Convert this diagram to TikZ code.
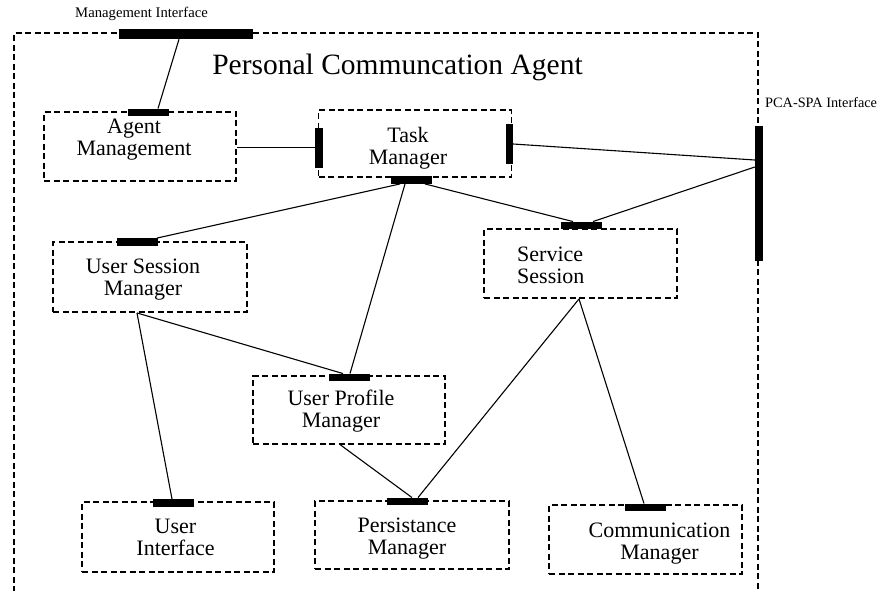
\documentclass[tikz,border=0pt]{standalone}
\usepackage{fontspec}
\setmainfont{Liberation Serif}
\usetikzlibrary{calc}

% two-line label whose reference point is the baseline of its first line
\newcommand{\twoc}[2]{\begin{tabular}[t]{@{}c@{}}#1\\#2\end{tabular}}
\newcommand{\twol}[2]{\begin{tabular}[t]{@{}l@{}}#1\\#2\end{tabular}}

\tikzset{
  dashbox/.style={draw, line width=1.9pt, dash pattern=on 6pt off 3.5pt,
    minimum width=193pt, minimum height=69pt, inner sep=0pt},
  hbar/.style={fill=black, draw=none, minimum width=41pt, minimum height=7.5pt, inner sep=0pt},
  vbar/.style={fill=black, draw=none, minimum width=8pt, minimum height=40pt, inner sep=0pt},
  wire/.style={draw, line width=1.1pt},
  boxtext/.style={anchor=base, inner sep=0pt, font=\fontsize{22}{22}\selectfont},
  smalltext/.style={anchor=base west, inner sep=0pt},
}

\begin{document}
\begin{tikzpicture}[x=1pt, y=-1pt]
\useasboundingbox (0,0) rectangle (881,590);
\fill[white] (0,0) rectangle (881,590);

% outer agent boundary (open at the bottom)
\draw[line width=1.9pt, dash pattern=on 6pt off 3.5pt] (14,592) -- (14,33) -- (758,33) -- (758,592);

% component boxes
\node[dashbox, minimum width=192pt] (am)  at (140,146.5) {};
\node[dashbox, minimum height=67pt] (tm)  at (415,143.5) {};
\node[dashbox, minimum width=194pt, minimum height=70pt] (usm) at (150,277) {};
\node[dashbox] (ss)  at (580.5,263.5) {};
\node[dashbox, minimum width=192pt, minimum height=68pt] (upm) at (349,410) {};
\node[dashbox, minimum width=192pt, minimum height=70pt] (ui)  at (178,537) {};
\node[dashbox, minimum width=194pt, minimum height=68pt] (pm)  at (412,535) {};
\node[dashbox] (cm)  at (645.5,539.5) {};

% interface bars
\node[fill=black, minimum width=134pt, minimum height=10pt, inner sep=0pt] (mgmtbar) at (186,34) {};
\node[fill=black, minimum width=8pt, minimum height=135pt, inner sep=0pt] (pcabar) at (759,193.5) {};
\node[hbar] (am-b)  at (148,112.5) {};
\node[vbar] (tm-l)  at (319,147.5) {};
\node[vbar, minimum width=7pt] (tm-r) at (509.5,144) {};
\node[hbar] (tm-b)  at (411.5,180) {};
\node[hbar] (usm-b) at (137.5,242) {};
\node[hbar] (ss-b)  at (581.5,225.5) {};
\node[hbar] (upm-b) at (349,377.5) {};
\node[hbar] (ui-b)  at (173.5,503) {};
\node[hbar] (pm-b)  at (407.5,501.5) {};
\node[hbar] (cm-b)  at (645.5,507.5) {};

% connectors
\draw[wire] ([xshift=-7pt]mgmtbar.south) -- ([xshift=10pt]am-b.north);
\draw[wire] (tm-l.west) -- (tm-l.west -| am.east);
\draw[wire] (tm-r.east) -- ([yshift=33.5pt]pcabar.west);
\draw[wire] ([xshift=11.5pt]ss-b.north) -- ([yshift=26.5pt]pcabar.west);
\draw[wire] ([xshift=13.5pt]tm-b.south) -- ([xshift=-8.5pt]ss-b.north);
\draw[wire] ([xshift=-11.5pt]tm-b.south) -- ([xshift=19.5pt]usm-b.north);
\draw[wire] ([xshift=-6.5pt]tm-b.south) -- ([xshift=1pt]upm-b.north);
\draw[wire] ([xshift=-13pt]usm.south) -- ([xshift=-6pt]upm-b.north);
\draw[wire] ([xshift=-13pt]usm.south) -- ([xshift=-1.5pt]ui-b.north);
\draw[wire] ([xshift=-8.5pt]upm.south) -- ([xshift=4.5pt]pm-b.north);
\draw[wire] ([xshift=-1.5pt]ss.south) -- ([xshift=10.5pt]pm-b.north);
\draw[wire] ([xshift=-1.5pt]ss.south) -- ([xshift=-1.5pt]cm-b.north);

% labels
\node[anchor=base, inner sep=0pt, font=\fontsize{29.5}{30}\selectfont] (title) at (397.5,74) {Personal Communcation Agent};
\node[smalltext, font=\fontsize{14.7}{15}\selectfont] (mgmt-t) at (75,17.5) {Management Interface};
\node[smalltext, font=\fontsize{14.3}{15}\selectfont] (pca-t) at (765,107) {PCA-SPA Interface};

\node[boxtext] (am-t)  at (134,133)   {\twoc{Agent}{Management}};
\node[boxtext] (tm-t)  at (408,142)   {\twoc{Task}{Manager}};
\node[boxtext] (usm-t) at (143,273)   {\twoc{User Session}{Manager}};
\node[boxtext, anchor=base west] (ss-t) at (517,261) {\twol{Service}{Session}};
\node[boxtext] (upm-t) at (341,405)   {\twoc{User Profile}{Manager}};
\node[boxtext] (ui-t)  at (175.5,533) {\twoc{User}{Interface}};
\node[boxtext] (pm-t)  at (407,532)   {\twoc{Persistance}{Manager}};
\node[boxtext] (cm-t)  at (659.5,537) {\twoc{Communication}{Manager}};
\end{tikzpicture}
\end{document}
